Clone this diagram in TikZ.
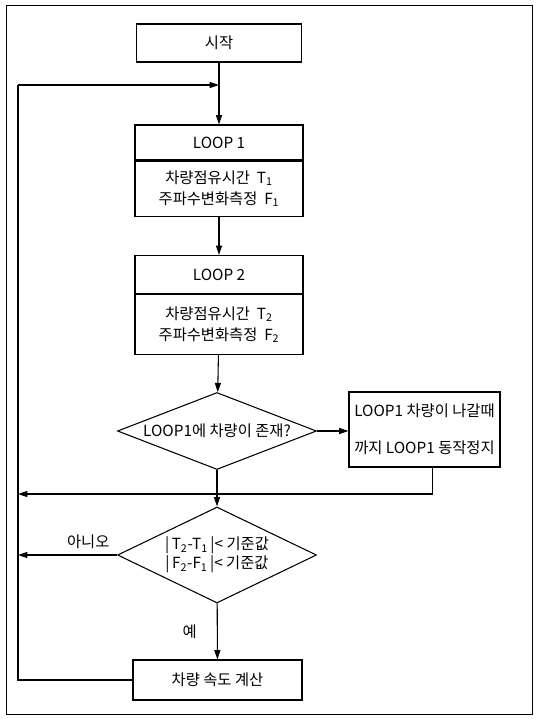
\documentclass[tikz,border=0pt]{standalone}
\usepackage{fontspec}
\setmainfont{Noto Sans CJK KR}
\usetikzlibrary{positioning,shapes.geometric,arrows.meta}
\newcommand{\ix}[1]{\textsubscript{#1}}

\begin{document}
\begin{tikzpicture}[
  x=0.75pt,y=-0.75pt,
  every node/.style={font=\fontsize{11.5}{13.5}\selectfont,inner sep=1pt},
  proc/.style={rectangle,draw=black,line width=0.8pt,align=center},
  decision/.style={diamond,draw=black,line width=0.8pt,inner sep=0pt,minimum width=149.25pt},
  arr/.style={-{Triangle[length=7pt,width=4.5pt]},line width=0.8pt},
  ln/.style={line width=0.8pt},
  lbl/.style={font=\fontsize{11.5}{13.5}\selectfont}
]
\useasboundingbox (0,0) rectangle (537,719);
\draw[line width=0.6pt] (6,5) rectangle (532,714);
% ================= boxes =================
\node[proc,minimum width=123.75pt,minimum height=28.5pt] (start) at (219,43) {시작};
\node[proc,minimum width=126pt,minimum height=26.25pt] (loop1head) at (219,142.5) {LOOP 1};
\node[proc,minimum width=126pt,minimum height=41.25pt,below=0pt of loop1head] (loop1body)
  {차량점유시간 \ T\ix{1}\\[2pt]주파수변화측정 \ F\ix{1}};
\node[proc,minimum width=126pt,minimum height=28.5pt] (loop2head) at (219,274.5) {LOOP 2};
\node[proc,minimum width=126pt,minimum height=45pt,below=0pt of loop2head] (loop2body)
  {차량점유시간 \ T\ix{2}\\[2pt]주파수변화측정 \ F\ix{2}};
\node[decision,minimum height=57.75pt,label={center:LOOP1에 차량이 존재?}] (check1) at (217,431) {};
\node[proc,minimum width=113.25pt,minimum height=56.25pt] (wait) at (424.5,429.5)
  {LOOP1 차량이 나갈때\\[14pt]까지 LOOP1 동작정지};
\node[decision,minimum height=72pt,
  label={[align=center]center:{|\,T\ix{2}-T\ix{1}\,|<\ 기준값\\[1pt]|\,F\ix{2}-F\ix{1}\,|<\ 기준값}}] (check2) at (217,555) {};
\node[proc,minimum width=126.75pt,minimum height=30pt] (calc) at (217.5,680) {차량 속도 계산};
% ================= joints =================
\coordinate (j1) at (219,85);
\coordinate (j2) at (217,494);
\coordinate (back) at (18,85);
% ================= connectors =================
\draw[arr] (start) -- (loop1head);
\draw[arr] (loop1body) -- (loop2head);
\draw[arr] (loop2body) -- (check1);
\draw[arr] (check1.east) -- (check1.east -| wait.west);
\draw[arr] (check1) -- (check2);
\draw[arr] ([xshift=6pt]wait.south) |- (j2) -- (j2 -| back);
\draw[arr] (check2.west) -- node[pos=0.29,above=3pt,lbl] {아니오} (check2.west -| back);
\draw[arr] (check2) -- node[left=14pt,lbl] {예} (calc);
\draw[ln] (calc.west) -- (calc.west -| back) -- (back);
\draw[arr] (back) -- (j1);
\end{tikzpicture}
\end{document}
